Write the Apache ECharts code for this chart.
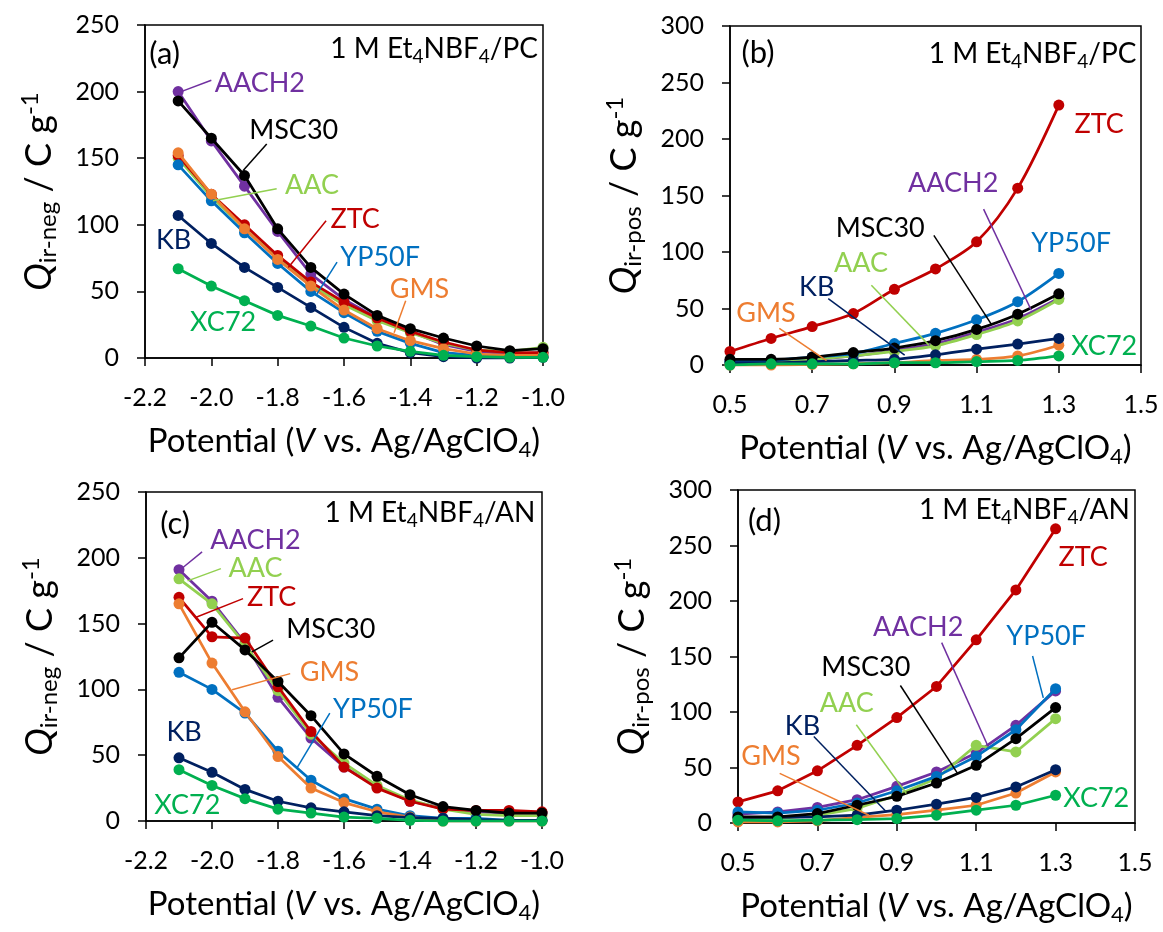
<!DOCTYPE html>
<html><head><meta charset="utf-8">
<script src="https://cdn.jsdelivr.net/npm/echarts@6/dist/echarts.min.js"></script>
<style>html,body{margin:0;padding:0;background:#fff}#c{width:1163px;height:932px}</style>
</head><body><div id="c"></div>
<script>
// ---------- data ----------
const seriesNames = ['AACH2','AAC','ZTC','YP50F','GMS','KB','MSC30','XC72'];
const seriesColors = ['#7030A0','#92D050','#C00000','#0070C0','#ED7D31','#002060','#000000','#00B050'];
const xNeg = [-2.1,-2.0,-1.9,-1.8,-1.7,-1.6,-1.5,-1.4,-1.3,-1.2,-1.1,-1.0];
const xPos = [0.5,0.6,0.7,0.8,0.9,1.0,1.1,1.2,1.3];
const negTicks = [-2.2,-2.0,-1.8,-1.6,-1.4,-1.2,-1.0];
const posTicks = [0.5,0.7,0.9,1.1,1.3,1.5];

// (a) 1 M Et4NBF4/PC, negative
const a_AACH2 = [200,163,129,95,63,44,30,20,10,5,3,4];
const a_AAC   = [150,121,97,75,55,40,28,19,11,6,5,8];
const a_ZTC   = [152,123,100,77,57,42,30,20,12,6,4,4];
const a_YP50F = [145,118,94,71,50,34,20,11,4,2,1,1];
const a_GMS   = [154,123,97,74,54,36,22,13,7,3,2,2];
const a_KB    = [107,86,68,53,38,23,11,4,1,0,0,0.5];
const a_MSC30 = [193,165,137,97,68,48,32,22,15,9,5.5,7];
const a_XC72  = [67,54,43,32,24,15,9,5,2,1,0.5,0.5];
// (b) 1 M Et4NBF4/PC, positive
const b_AACH2 = [3,4,5,8,13,19,29,41,59];
const b_AAC   = [2,3,5,8,12,17,27,39,58];
const b_ZTC   = [12,23.5,34,45.5,67,85,109,156.5,230];
const b_YP50F = [3,4,7,10,19,28,40,56,81];
const b_GMS   = [0,0,0.5,1,2,4,5,8,17.5];
const b_KB    = [2,2,3,4,5,9,14,18.5,23.5];
const b_MSC30 = [5,5,7,11,15,21.5,31.5,45,63];
const b_XC72  = [0,1,1,1,2,2,3,4,8];
// (c) 1 M Et4NBF4/AN, negative
const c_AACH2 = [191,167,135,94,63,41,26,15,10,7,6,6];
const c_AAC   = [184,165,134,99,66,44,27,16,9,5,4,4];
const c_ZTC   = [170,140,139,102,68,41,25,15,9,8,8,7];
const c_YP50F = [113,100,82,53,31,17,9,4,2,2,0.5,0.5];
const c_GMS   = [165,120,83,49,25,14,7,3,0,0,0,0];
const c_KB    = [48,37,24,15,10,7,4,2.5,2,1,0.5,0.5];
const c_MSC30 = [124,151,130,106,80,51,34,20,11,8,6,6];
const c_XC72  = [39,27,17,9,6,3,2,0.5,0,0,0,0];
// (d) 1 M Et4NBF4/AN, positive
const d_AACH2 = [8,10,14,21,33,46,63,88,119];
const d_AAC   = [3,4,7,13,25,40,70,64,94];
const d_ZTC   = [19,29,47,70,95,123,165,210,265];
const d_YP50F = [10,9,11.5,18,29,42,60,84,121];
const d_GMS   = [1,1,2,5,7.5,11.5,16,27,46];
const d_KB    = [5,5,5.5,7,11.5,17,23,32.5,48];
const d_MSC30 = [5.5,5.5,8.5,16,24,36,52,76,104];
const d_XC72  = [2.5,2,2.5,3,4,7,11.5,16,25];

const panelData = [
  [a_AACH2,a_AAC,a_ZTC,a_YP50F,a_GMS,a_KB,a_MSC30,a_XC72],
  [b_AACH2,b_AAC,b_ZTC,b_YP50F,b_GMS,b_KB,b_MSC30,b_XC72],
  [c_AACH2,c_AAC,c_ZTC,c_YP50F,c_GMS,c_KB,c_MSC30,c_XC72],
  [d_AACH2,d_AAC,d_ZTC,d_YP50F,d_GMS,d_KB,d_MSC30,d_XC72]
];
const panelX = [xNeg, xPos, xNeg, xPos];
const panelTags = ['(a)','(b)','(c)','(d)'];
const panelSolvent = ['PC','PC','AN','AN'];

// ---------- annotations (label anchor & leader line, in data units) ----------
const annotations = [
  [ // a
    {s:'AACH2', at:[-1.99,206], line:[[-2.0,208.5],[-2.091,200]]},
    {s:'MSC30', at:[-1.886,170.7], line:[[-1.833,160.7],[-1.904,140.7]]},
    {s:'AAC',   at:[-1.778,129.4], line:[[-1.803,127],[-1.995,118]]},
    {s:'ZTC',   at:[-1.641,104], line:[[-1.654,103],[-1.768,68]]},
    {s:'YP50F', at:[-1.611,75.6], line:[[-1.621,72],[-1.682,48]]},
    {s:'GMS',   at:[-1.462,51.8], line:[[-1.414,43],[-1.449,19]]},
    {s:'KB',    at:[-2.167,88]},
    {s:'XC72',  at:[-2.064,26.8]}
  ],
  [ // b
    {s:'ZTC',   at:[1.338,213]},
    {s:'AACH2', at:[0.933,161], line:[[1.117,138],[1.233,48.5]]},
    {s:'MSC30', at:[0.757,120.6], line:[[0.996,114.7],[1.136,36]]},
    {s:'YP50F', at:[1.233,108]},
    {s:'AAC',   at:[0.753,89.7], line:[[0.844,70.6],[0.984,17.6]]},
    {s:'KB',    at:[0.668,69], line:[[0.739,58.8],[0.925,8.8]]},
    {s:'GMS',   at:[0.515,45.6], line:[[0.620,32.4],[0.735,3.8]]},
    {s:'XC72',  at:[1.330,16.2]}
  ],
  [ // c
    {s:'AACH2', at:[-2.005,213.4], line:[[-2.030,204.5],[-2.088,192.6]]},
    {s:'AAC',   at:[-1.95,191.8], line:[[-1.973,191.8],[-2.074,182.5]]},
    {s:'ZTC',   at:[-1.894,169.8], line:[[-1.906,169],[-2.050,154.6]]},
    {s:'MSC30', at:[-1.775,146], line:[[-1.815,137.4],[-1.879,128.5]]},
    {s:'GMS',   at:[-1.734,113], line:[[-1.763,112],[-1.939,99.8]]},
    {s:'YP50F', at:[-1.633,84.6], line:[[-1.643,82],[-1.742,40.5]]},
    {s:'KB',    at:[-2.138,67.7]},
    {s:'XC72',  at:[-2.175,12]}
  ],
  [ // d
    {s:'ZTC',   at:[1.307,239.6]},
    {s:'AACH2', at:[0.840,176], line:[[1.013,162.5],[1.130,68.9]]},
    {s:'YP50F', at:[1.176,168.6], line:[[1.242,150.5],[1.269,112.7]]},
    {s:'MSC30', at:[0.710,139.9], line:[[0.909,123.9],[1.053,44.7]]},
    {s:'AAC',   at:[0.706,108], line:[[0.798,88.5],[0.924,26.6]]},
    {s:'KB',    at:[0.618,87], line:[[0.691,78],[0.874,10]]},
    {s:'GMS',   at:[0.508,59.8], line:[[0.605,44.7],[0.830,7]]},
    {s:'XC72',  at:[1.319,22]}
  ]
];
const tagPos = [[-2.187,228],[0.528,276],[-2.157,226],[0.525,272]];
const solventPos = [[-1.015,232],[1.489,275],[-1.020,233.7],[1.487,282]];

// ---------- layout ----------
const FONT = 'Lato';
const grids = [
  {left:145, top:25, width:398, height:333},
  {left:730, top:26, width:411, height:339},
  {left:146, top:492, width:396, height:329},
  {left:738, top:490, width:397, height:333}
];
const xRange = [[-2.2,-1.0],[0.5,1.5],[-2.2,-1.0],[0.5,1.5]];
const yMax = [250,300,250,300];
const yNames = ['ir-neg','ir-pos','ir-neg','ir-pos'];

const chart = echarts.init(document.getElementById('c'), null, {renderer:'canvas'});

const xAxes = grids.map((g,i)=>{
  const ticks = (i%2===0) ? negTicks : posTicks;
  return {
    gridIndex:i, type:'value', min:xRange[i][0], max:xRange[i][1],
    axisLine:{show:true, onZero:false, lineStyle:{color:'#000', width:1.5}},
    axisTick:{show:true, inside:false, length:8, customValues:ticks, lineStyle:{color:'#000', width:1.5}},
    axisLabel:{customValues:ticks, formatter:v=>Number(v).toFixed(1), margin:27, fontSize:25, color:'#000', fontFamily:FONT},
    splitLine:{show:false},
    name:'{n|Potential (}{i|V}{n| vs. Ag/AgClO}{s|4}{n|)}',
    nameLocation:'middle', nameGap:63,
    nameTextStyle:{color:'#000', fontFamily:FONT, fontSize:33,
      rich:{n:{fontSize:33, fontFamily:FONT, color:'#000'},
            i:{fontSize:33, fontFamily:FONT, fontStyle:'italic', color:'#000'},
            s:{fontSize:22, fontFamily:FONT, color:'#000', padding:[18,0,0,0]}}}
  };
});
const yAxes = grids.map((g,i)=>({
  gridIndex:i, type:'value', min:0, max:yMax[i], interval:50,
  axisLine:{show:true, lineStyle:{color:'#000', width:1.5}},
  axisTick:{show:true, inside:false, length:8, lineStyle:{color:'#000', width:1.5}},
  axisLabel:{margin:26, fontSize:25, color:'#000', fontFamily:FONT},
  splitLine:{show:false},
  name:'{q|Q}{sub|'+yNames[i]+'}{n| / C g}{sup|-1}',
  nameLocation:'middle', nameRotate:90, nameGap:84,
  nameTextStyle:{color:'#000', fontFamily:FONT,
    rich:{q:{fontSize:37, fontStyle:'italic', fontFamily:FONT, color:'#000'},
          sub:{fontSize:24, fontFamily:FONT, color:'#000', padding:[17,0,0,0]},
          n:{fontSize:36, fontFamily:FONT, color:'#000'},
          sup:{fontSize:24, fontFamily:FONT, color:'#000', padding:[0,0,19,0]}}}
}));

const series = [];
panelData.forEach((arrs,p)=>{
  arrs.forEach((vals,k)=>{
    series.push({
      type:'line', name:seriesNames[k]+'_'+p, xAxisIndex:p, yAxisIndex:p,
      data: panelX[p].map((x,j)=>[x, vals[j]]),
      smooth: p===1 ? 0.3 : false,
      symbol:'circle', symbolSize:11, showSymbol:true,
      lineStyle:{color:seriesColors[k], width:2.75},
      itemStyle:{color:seriesColors[k], borderWidth:0},
      emphasis:{disabled:true}, animation:false, z:2+k
    });
  });
});

chart.setOption({
  animation:false,
  backgroundColor:'#fff',
  textStyle:{fontFamily:FONT},
  grid: grids.map(g=>Object.assign({show:true, borderColor:'#000', borderWidth:1.5, backgroundColor:'transparent'}, g)),
  xAxis:xAxes, yAxis:yAxes, series
});

// ---------- annotations drawn through the axes' scales ----------
const graphics = [];
function P(g, pt){ return chart.convertToPixel({gridIndex:g}, pt); }
annotations.forEach((list,p)=>{
  list.forEach(a=>{
    const k = seriesNames.indexOf(a.s);
    const col = seriesColors[k];
    const t = P(p, a.at);
    graphics.push({type:'text', x:t[0], y:t[1], z:100,
      style:{text:a.s, fill:col, fontSize:27, fontFamily:FONT, align:'left', verticalAlign:'middle'}});
    if (a.line){
      const p1 = P(p, a.line[0]), p2 = P(p, a.line[1]);
      graphics.push({type:'line', z:100, shape:{x1:p1[0], y1:p1[1], x2:p2[0], y2:p2[1]},
        style:{stroke:col, lineWidth:1.5}});
    }
  });
  const tp = P(p, tagPos[p]);
  graphics.push({type:'text', x:tp[0], y:tp[1], z:100,
    style:{text:panelTags[p], fill:'#000', fontSize:31, fontFamily:FONT, align:'left', verticalAlign:'middle'}});
  const sp = P(p, solventPos[p]);
  graphics.push({type:'text', x:sp[0], y:sp[1], z:100,
    style:{text:'1 M Et{s|4}NBF{s|4}/'+panelSolvent[p], fill:'#000', fontSize:28, fontFamily:FONT,
      align:'right', verticalAlign:'middle',
      rich:{s:{fontSize:19, fontFamily:FONT, fill:'#000', padding:[15,0,0,0]}}}});
});
chart.setOption({graphic:graphics});
</script>
</body></html>
